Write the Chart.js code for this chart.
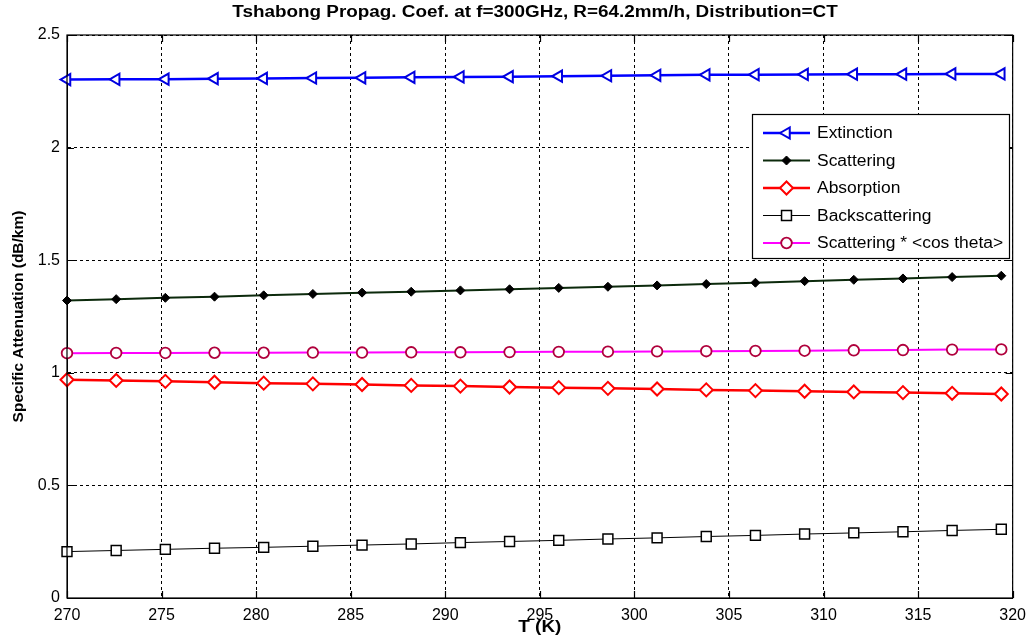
<!DOCTYPE html>
<html>
<head>
<meta charset="utf-8">
<script src="https://cdn.jsdelivr.net/npm/chart.js@4/dist/chart.umd.min.js"></script>
<style>
  html, body { margin: 0; padding: 0; background: #fff; }
  canvas { display: block; }
</style>
</head>
<body>
<canvas id="c" width="1034" height="641"></canvas>
<script>
// Temperature samples (K)
const temperatures = [270.0, 272.6, 275.2, 277.8, 280.4, 283.0, 285.6, 288.2, 290.8, 293.4,
                      296.0, 298.6, 301.2, 303.8, 306.4, 309.0, 311.6, 314.2, 316.8, 319.4];

// Specific attenuation (dB/km)
const extinction     = [2.302, 2.303, 2.304, 2.306, 2.307, 2.309, 2.310, 2.312, 2.314, 2.315,
                        2.317, 2.319, 2.321, 2.323, 2.324, 2.325, 2.326, 2.326, 2.327, 2.327];
const scattering     = [1.321, 1.327, 1.333, 1.338, 1.344, 1.350, 1.356, 1.360, 1.366, 1.371,
                        1.377, 1.382, 1.388, 1.394, 1.400, 1.407, 1.413, 1.419, 1.425, 1.431];
const absorption     = [0.969, 0.966, 0.962, 0.958, 0.954, 0.951, 0.948, 0.944, 0.941, 0.937,
                        0.934, 0.931, 0.928, 0.924, 0.921, 0.918, 0.915, 0.912, 0.909, 0.906];
const backscattering = [0.206, 0.211, 0.216, 0.221, 0.225, 0.230, 0.235, 0.240, 0.246, 0.251,
                        0.256, 0.262, 0.267, 0.273, 0.278, 0.284, 0.289, 0.294, 0.300, 0.305];
const scatteringCos  = [1.087, 1.088, 1.088, 1.089, 1.089, 1.090, 1.090, 1.091, 1.091, 1.092,
                        1.093, 1.094, 1.095, 1.096, 1.097, 1.098, 1.100, 1.101, 1.103, 1.104];

const seriesNames = ['Extinction', 'Scattering', 'Absorption', 'Backscattering', 'Scattering * <cos theta>'];

// Axis tick values
const xTicks = [270, 275, 280, 285, 290, 295, 300, 305, 310, 315, 320];
const yTicks = [0, 0.5, 1, 1.5, 2, 2.5];

const chartTitle = 'Tshabong Propag. Coef. at f=300GHz, R=64.2mm/h, Distribution=CT';
const xTitle = 'T (K)';
const yTitle = 'Specific Attenuation (dB/km)';

const FONT = "'Liberation Sans', Arial, Helvetica, sans-serif";

const pts = (vals) => temperatures.map((t, i) => ({ x: t, y: vals[i] }));

const datasets = [
  { label: seriesNames[0], data: pts(extinction), borderColor: '#0000ff', borderWidth: 2.5,
    pointStyle: 'triangle', pointRotation: -90, pointRadius: 6.5, pointBorderWidth: 2,
    pointBorderColor: '#0000e0', pointBackgroundColor: '#ffffff' },
  { label: seriesNames[1], data: pts(scattering), borderColor: '#0c2a0c', borderWidth: 2,
    pointStyle: 'rectRot', pointRadius: 4.5, pointBorderWidth: 1,
    pointBorderColor: '#000000', pointBackgroundColor: '#000000' },
  { label: seriesNames[2], data: pts(absorption), borderColor: '#ff0000', borderWidth: 2.5,
    pointStyle: 'rectRot', pointRadius: 6.5, pointBorderWidth: 2,
    pointBorderColor: '#ff0000', pointBackgroundColor: '#ffffff' },
  { label: seriesNames[3], data: pts(backscattering), borderColor: '#000000', borderWidth: 1,
    pointStyle: 'rect', pointRadius: 7, pointBorderWidth: 1.5,
    pointBorderColor: '#000000', pointBackgroundColor: '#ffffff' },
  { label: seriesNames[4], data: pts(scatteringCos), borderColor: '#ff00ff', borderWidth: 2,
    pointStyle: 'circle', pointRadius: 5.3, pointBorderWidth: 1.8,
    pointBorderColor: '#b0003c', pointBackgroundColor: '#ffffff' }
];
datasets.forEach(d => { d.fill = false; d.tension = 0; d.clip = false; d.pointHoverRadius = d.pointRadius; });

// Text drawn with a slight horizontal stretch
function stretchedText(ctx, text, x, y, font, sx, align) {
  ctx.save();
  ctx.font = font;
  ctx.fillStyle = '#000';
  ctx.textBaseline = 'middle';
  ctx.textAlign = align;
  ctx.translate(x, y);
  ctx.scale(sx, 1);
  ctx.fillText(text, 0, 0);
  ctx.restore();
}

// Boxed frame, inward tick marks, titles and the in-axes legend
const decorations = {
  id: 'decorations',
  afterDraw(chart) {
    const { ctx, chartArea: a, scales } = chart;
    ctx.save();
    ctx.setLineDash([]);
    ctx.strokeStyle = '#000';
    ctx.lineWidth = 1.2;
    ctx.strokeRect(a.left, a.top, a.right - a.left, a.bottom - a.top);

    // inward ticks on all four sides
    const tl = 7;
    ctx.beginPath();
    xTicks.forEach(v => {
      const x = Math.round(scales.x.getPixelForValue(v)) + 0.5;
      ctx.moveTo(x, a.bottom); ctx.lineTo(x, a.bottom - tl);
      ctx.moveTo(x, a.top); ctx.lineTo(x, a.top + tl);
    });
    yTicks.forEach(v => {
      const y = Math.round(scales.y.getPixelForValue(v)) + 0.5;
      ctx.moveTo(a.left, y); ctx.lineTo(a.left + tl, y);
      ctx.moveTo(a.right, y); ctx.lineTo(a.right - tl, y);
    });
    ctx.stroke();

    // chart title and x-axis title
    stretchedText(ctx, chartTitle, 535, 13, 'bold 16px ' + FONT, 1.18, 'center');
    stretchedText(ctx, xTitle, (a.left + a.right) / 2, 628, 'bold 16px ' + FONT, 1.18, 'center');

    // legend box
    const bx = 752.5, by = 114.5, bw = 257, bh = 144;
    ctx.fillStyle = '#fff';
    ctx.fillRect(bx, by, bw, bh);
    ctx.strokeStyle = '#000';
    ctx.lineWidth = 1.2;
    ctx.strokeRect(bx, by, bw, bh);

    const rowY = [133, 160.5, 188, 215.5, 243];
    chart.data.datasets.forEach((ds, i) => {
      const y = rowY[i];
      ctx.strokeStyle = ds.borderColor;
      ctx.lineWidth = ds.borderWidth;
      ctx.beginPath();
      ctx.moveTo(763, y); ctx.lineTo(810, y);
      ctx.stroke();
      ctx.fillStyle = ds.pointBackgroundColor;
      ctx.strokeStyle = ds.pointBorderColor;
      ctx.lineWidth = ds.pointBorderWidth;
      Chart.helpers.drawPoint(ctx, {
        pointStyle: ds.pointStyle, rotation: ds.pointRotation || 0,
        radius: ds.pointRadius, borderWidth: ds.pointBorderWidth
      }, 786.5, y);
      stretchedText(ctx, ds.label, 817, y + 1, '16px ' + FONT, 1.09, 'left');
    });
    ctx.restore();
  }
};

new Chart(document.getElementById('c'), {
  type: 'line',
  data: { datasets },
  plugins: [decorations],
  options: {
    responsive: false,
    animation: false,
    devicePixelRatio: 1,
    layout: { padding: { top: 35, right: 21, left: 0, bottom: 0 } },
    plugins: { legend: { display: false }, title: { display: false }, tooltip: { enabled: false } },
    scales: {
      x: {
        type: 'linear', min: 270, max: 320,
        afterFit(s) { s.height = 43; },
        afterBuildTicks(s) { s.ticks = xTicks.map(v => ({ value: v })); },
        grid: { color: '#000', lineWidth: 1, drawTicks: false },
        border: { display: true, color: '#000', width: 1, dash: [3, 3] },
        ticks: { color: '#000', padding: 8, font: { family: FONT, size: 16 }, maxRotation: 0,
                 callback: v => String(v) }
      },
      y: {
        type: 'linear', min: 0, max: 2.5,
        afterFit(s) { s.width = 67; },
        afterBuildTicks(s) { s.ticks = yTicks.map(v => ({ value: v })); },
        grid: { color: '#000', lineWidth: 1, drawTicks: false },
        border: { display: true, color: '#000', width: 1, dash: [3, 3] },
        ticks: { color: '#000', padding: 7, font: { family: FONT, size: 16 },
                 callback: v => String(v) },
        title: { display: true, text: yTitle, color: '#000',
                 font: { family: FONT, size: 15.5, weight: 'bold' }, padding: { top: 9, bottom: 0 } }
      }
    }
  }
});
</script>
</body>
</html>
